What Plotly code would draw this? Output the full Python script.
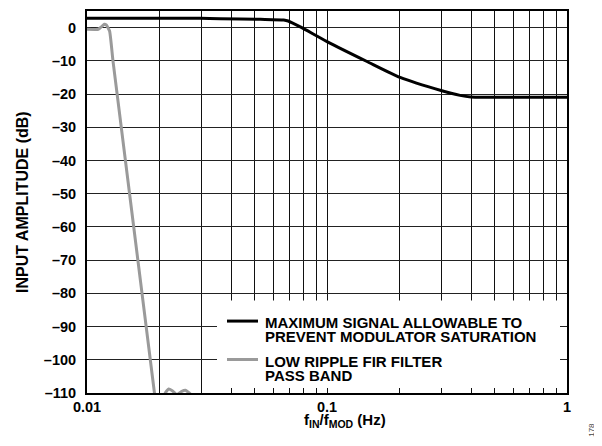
import plotly.graph_objects as go

# ---- data ----
max_sig_f = [0.01, 0.0297, 0.0359, 0.0528, 0.0660, 0.0689, 0.0774, 0.1, 0.1468, 0.2017, 0.3010, 0.3585, 0.3981, 0.4471, 1.0]
max_sig_db = [2.8, 2.8, 2.7, 2.5, 2.3, 2.0, 0.2, -4.2, -10.2, -15.0, -19.0, -20.4, -20.9, -21.0, -21.0]

fir_f = [0.01, 0.01115, 0.01147, 0.0118, 0.01203, 0.01242, 0.01283, 0.0191, 0.0195,
         0.0208, 0.02119, 0.02188, 0.02266, 0.02370, 0.02472, 0.02570, 0.02696, 0.0275]
fir_db = [-0.5, -0.5, 0.2, 1.0, 0.8, -1.0, -10.0, -110.0, -116.0,
          -112.0, -110.0, -108.8, -109.3, -110.5, -109.6, -109.2, -110.3, -112.0]

x_tick_vals = [m * d for d in (0.01, 0.1) for m in range(1, 10)] + [1.0]
x_tick_text = ["0.01" if v == 0.01 else "0.1" if abs(v - 0.1) < 1e-9 else "1" if v == 1.0 else "" for v in x_tick_vals]
y_tick_vals = [0, -10, -20, -30, -40, -50, -60, -70, -80, -90, -100, -110]
y_tick_text = ["0", "–10", "–20", "–30", "–40", "–50", "–60", "–70", "–80", "–90", "–100", "–110"]

legend_lines = [["MAXIMUM SIGNAL ALLOWABLE TO", "PREVENT MODULATOR SATURATION"],
                ["LOW RIPPLE FIR FILTER", "PASS BAND"]]
series_colors = ["#000000", "#9a9a9a"]

# ---- geometry (page pixels; the page body has an 8px margin) ----
OFF = 8
W, H = 602 - OFF, 446 - OFF
PLOT_L, PLOT_R, PLOT_T, PLOT_B = 87, 567, 9, 393  # page pixels
L, R, T, B = PLOT_L - OFF, W - (PLOT_R - OFF), PLOT_T - OFF, H - (PLOT_B - OFF)
PW, PH = PLOT_R - PLOT_L, PLOT_B - PLOT_T
def px(x):
    return (x - PLOT_L) / PW
def py(y):
    return (PLOT_B - y) / PH

FONT = "Liberation Sans, Arial, sans-serif"

fig = go.Figure()
fig.add_trace(go.Scatter(x=max_sig_f, y=max_sig_db, mode="lines",
                         line=dict(color=series_colors[0], width=3, shape="spline", smoothing=0.6),
                         showlegend=False))
fig.add_trace(go.Scatter(x=fir_f, y=fir_db, mode="lines",
                         line=dict(color=series_colors[1], width=3, shape="spline", smoothing=0.4),
                         showlegend=False))

fig.update_layout(
    width=W, height=H,
    margin=dict(l=L, r=R, t=T, b=B, pad=0),
    paper_bgcolor="white", plot_bgcolor="white",
    font=dict(family=FONT, color="black"),
    xaxis=dict(type="log", range=[-2, 0], tickvals=x_tick_vals, ticktext=x_tick_text,
               showgrid=True, gridcolor="#111111", gridwidth=1.3,
               showline=True, linecolor="black", linewidth=2, mirror=True,
               ticks="", tickfont=dict(size=14.5, family=FONT, weight="bold"),
               zeroline=False),
    yaxis=dict(range=[-110, 5], tickvals=y_tick_vals, ticktext=y_tick_text,
               showgrid=True, gridcolor="#222222", gridwidth=1.1,
               showline=True, linecolor="black", linewidth=2, mirror=True,
               ticks="", tickfont=dict(size=14.5, family=FONT, weight="bold"),
               zeroline=False, ticklabelstandoff=6),
)

# legend box (white, covering grid)
fig.add_shape(type="rect", xref="paper", yref="paper",
              x0=px(217), x1=px(560), y0=py(388), y1=py(300),
              fillcolor="white", line=dict(width=0), layer="above")

# legend symbols + texts
sym_y = [320.7, 359.3]
text_y = [[322.5, 336.0], [361.5, 375.0]]
for i in range(2):
    fig.add_shape(type="line", xref="paper", yref="paper",
                  x0=px(227), x1=px(258), y0=py(sym_y[i]), y1=py(sym_y[i]),
                  line=dict(color=series_colors[i], width=3), layer="above")
    for j, t in enumerate(legend_lines[i]):
        fig.add_annotation(text=t, xref="paper", yref="paper", x=px(263), y=py(text_y[i][j]),
                           xanchor="left", yanchor="middle", showarrow=False,
                           font=dict(size=15, family=FONT, weight="bold", color="black"))

# axis titles
fig.add_annotation(text="f<sub>IN</sub>/f<sub>MOD</sub> (Hz)", xref="paper", yref="paper",
                   x=px(344.5), y=py(421), xanchor="center", yanchor="middle", showarrow=False,
                   font=dict(size=15, family=FONT, weight="bold"))
fig.add_annotation(text="INPUT AMPLITUDE (dB)", xref="paper", yref="paper",
                   x=px(22.5), y=py(201.5), xanchor="center", yanchor="middle", showarrow=False,
                   textangle=-90, font=dict(size=16, family=FONT, weight="bold"))
fig.add_annotation(text="178", xref="paper", yref="paper",
                   x=px(592), y=py(430), xanchor="center", yanchor="middle", showarrow=False,
                   textangle=-90, font=dict(size=8, family=FONT, color="#444444"))

fig.write_html("out.html")
